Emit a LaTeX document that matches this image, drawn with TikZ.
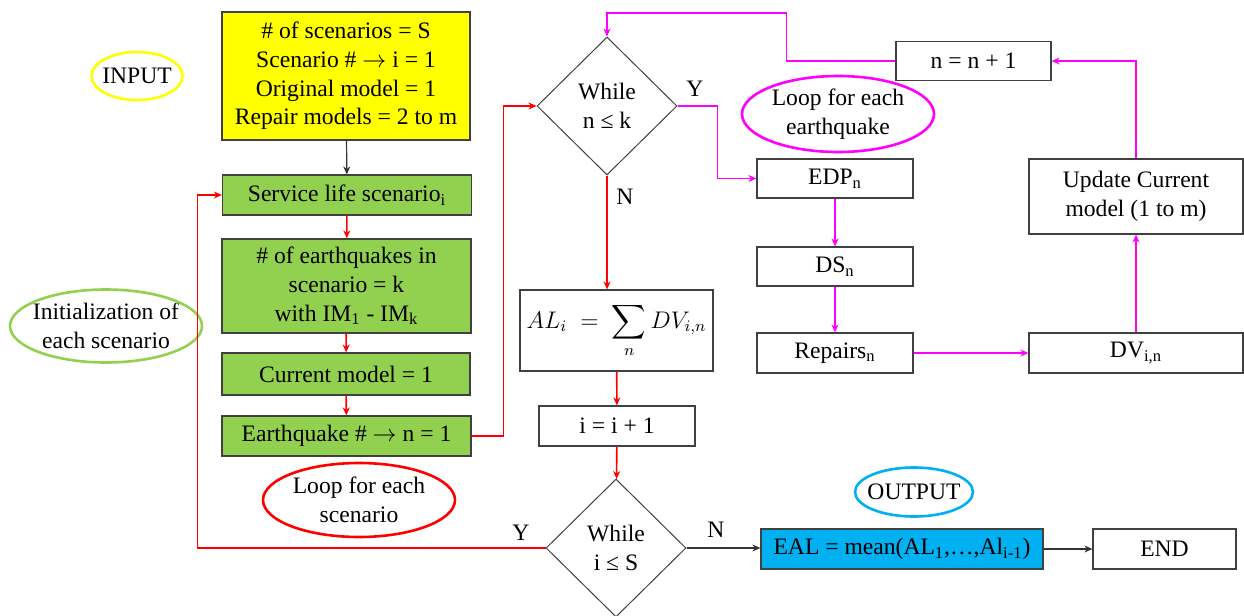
\documentclass[tikz,border=0pt]{standalone}
\usepackage{amsmath}
\usepackage{fontspec}
\setmainfont{Liberation Serif}
\usetikzlibrary{shapes.geometric,arrows.meta}

\definecolor{inyellow}{RGB}{255,255,0}
\definecolor{stepgreen}{RGB}{146,208,80}
\definecolor{outblue}{RGB}{0,176,240}
\definecolor{loopred}{RGB}{255,0,0}
\definecolor{loopmag}{RGB}{255,0,255}

\begin{document}
\begin{tikzpicture}[x=0.5pt,y=-0.5pt,
  font=\fontsize{11.8}{14.4}\selectfont,
  box/.style={draw=black!75, line width=0.6pt, inner sep=0pt, align=center},
  tag/.style={inner sep=0pt, align=center},
  ring/.style={line width=1.3pt},
  cond/.style={diamond, draw=black!75, line width=0.5pt, inner sep=0pt, align=center,
    minimum width=70pt, minimum height=69pt},
  redarr/.style={loopred, line width=0.8pt, -{Stealth[length=4pt,width=3.5pt]}},
  magarr/.style={loopmag, line width=0.8pt, -{Stealth[length=4pt,width=3.5pt]}},
  blkarr/.style={black!80, line width=0.6pt, -{Stealth[length=4pt,width=3.5pt]}}
]
  \useasboundingbox (0,0) rectangle (1244,616);

  % Input and initialization of each scenario
  \node[box, fill=inyellow, minimum width=124pt, minimum height=64pt] (inp) at (346,76)
    {\# of scenarios = S\\Scenario \# $\rightarrow$ i = 1\\Original model = 1\\Repair models = 2 to m};
  \node[box, fill=stepgreen, minimum width=124.5pt, minimum height=20pt] (svc) at (347,195)
    {Service life scenario\textsubscript{i}};
  \node[box, fill=stepgreen, minimum width=124.5pt, minimum height=47pt] (eqk) at (346.5,286)
    {\# of earthquakes in\\scenario = k\\with IM\textsubscript{1} - IM\textsubscript{k}};
  \node[box, fill=stepgreen, minimum width=124pt, minimum height=21pt] (cur) at (346,374)
    {Current model = 1};
  \node[box, fill=stepgreen, minimum width=124.5pt, minimum height=20pt] (eqn) at (346.5,436)
    {Earthquake \# $\rightarrow$ n = 1};

  % Tags
  \node[tag] (tagin) at (137,76) {INPUT};
  \draw[ring, inyellow] (tagin.center) ellipse [x radius=22.75pt, y radius=12pt];
  \node[tag] (tagini) at (106,326) {Initialization of\\each scenario};
  \draw[ring, stepgreen] (tagini.center) ellipse [x radius=48pt, y radius=18.25pt];
  \node[tag] (tagsc) at (359,500) {Loop for each\\scenario};
  \draw[ring, loopred] (tagsc.center) ellipse [x radius=48pt, y radius=18.5pt];
  \node[tag] (tageq) at (838,114) {Loop for each\\earthquake};
  \draw[ring, loopmag] (tageq.center) ellipse [x radius=48pt, y radius=19pt];
  \node[tag] (tagout) at (914,492) {OUTPUT};
  \draw[ring, outblue] (tagout.center) ellipse [x radius=29.5pt, y radius=12.25pt];

  % Scenario loop
  \node[cond] (wh1) at (607,106) {While\\n ≤ k};
  \node[box, minimum width=96.5pt, minimum height=40.5pt] (al) at (616.5,330.5)
    {$\displaystyle AL_{i} \;=\; \sum_{n} DV_{i,n}$};
  \node[box, minimum width=78pt, minimum height=20pt] (inc) at (617,426) {i = i + 1};
  \node[cond] (wh2) at (616,548) {While\\i ≤ S};
  \node[box, fill=outblue, minimum width=141pt, minimum height=20pt] (eal) at (902,549)
    {EAL = mean(AL\textsubscript{1},…,Al\textsubscript{i-1})};
  \node[box, minimum width=71.5pt, minimum height=20pt] (endb) at (1164.5,549) {END};

  % Earthquake loop
  \node[box, minimum width=77.5pt, minimum height=19.5pt] (nn) at (973.5,61) {n = n + 1};
  \node[box, minimum width=78pt, minimum height=19.5pt] (edp) at (835,178.5) {EDP\textsubscript{n}};
  \node[box, minimum width=78pt, minimum height=19.5pt] (ds) at (835,266.5) {DS\textsubscript{n}};
  \node[box, minimum width=78pt, minimum height=20pt] (rep) at (835,353) {Repairs\textsubscript{n}};
  \node[box, minimum width=107pt, minimum height=37.5pt] (upd) at (1136,196.5)
    {Update Current\\model (1 to m)};
  \node[box, minimum width=107pt, minimum height=20pt] (dv) at (1136,353) {DV\textsubscript{i,n}};

  % Y / N labels
  \node (yes1) at (695,89) {Y};
  \node (no1) at (625,197) {N};
  \node (yes2) at (521,533) {Y};
  \node (no2) at (716,530) {N};

  % Connectors
  \draw[blkarr] (inp) -- (svc);
  \draw[redarr] (svc) -- (eqk);
  \draw[redarr] (eqk) -- (cur);
  \draw[redarr] (cur) -- (eqn);
  \draw[redarr] (eqn.east) -- ++(32,0) |- (wh1.west);
  \draw[redarr] (wh1.south) -- (wh1.south |- al.north);
  \draw[redarr] (al) -- (inc);
  \draw[redarr] (inc) -- (wh2);
  \draw[redarr] (wh2.west) -- ++(-348,0) |- (svc.west);
  \draw[blkarr] (wh2.east) -- (wh2.east -| eal.west);
  \draw[blkarr] (eal) -- (endb);

  \draw[magarr] (wh1.east) -- ++(40,0) |- (edp.west);
  \draw[magarr] (edp) -- (ds);
  \draw[magarr] (ds) -- (rep);
  \draw[magarr] (rep) -- (dv);
  \draw[magarr] (dv) -- (upd);
  \draw[magarr] (upd.north) |- (nn.east);
  \draw[magarr] (nn.west) -- ++(-109,0) -- ++(0,-48) -| (wh1.north);
\end{tikzpicture}
\end{document}
